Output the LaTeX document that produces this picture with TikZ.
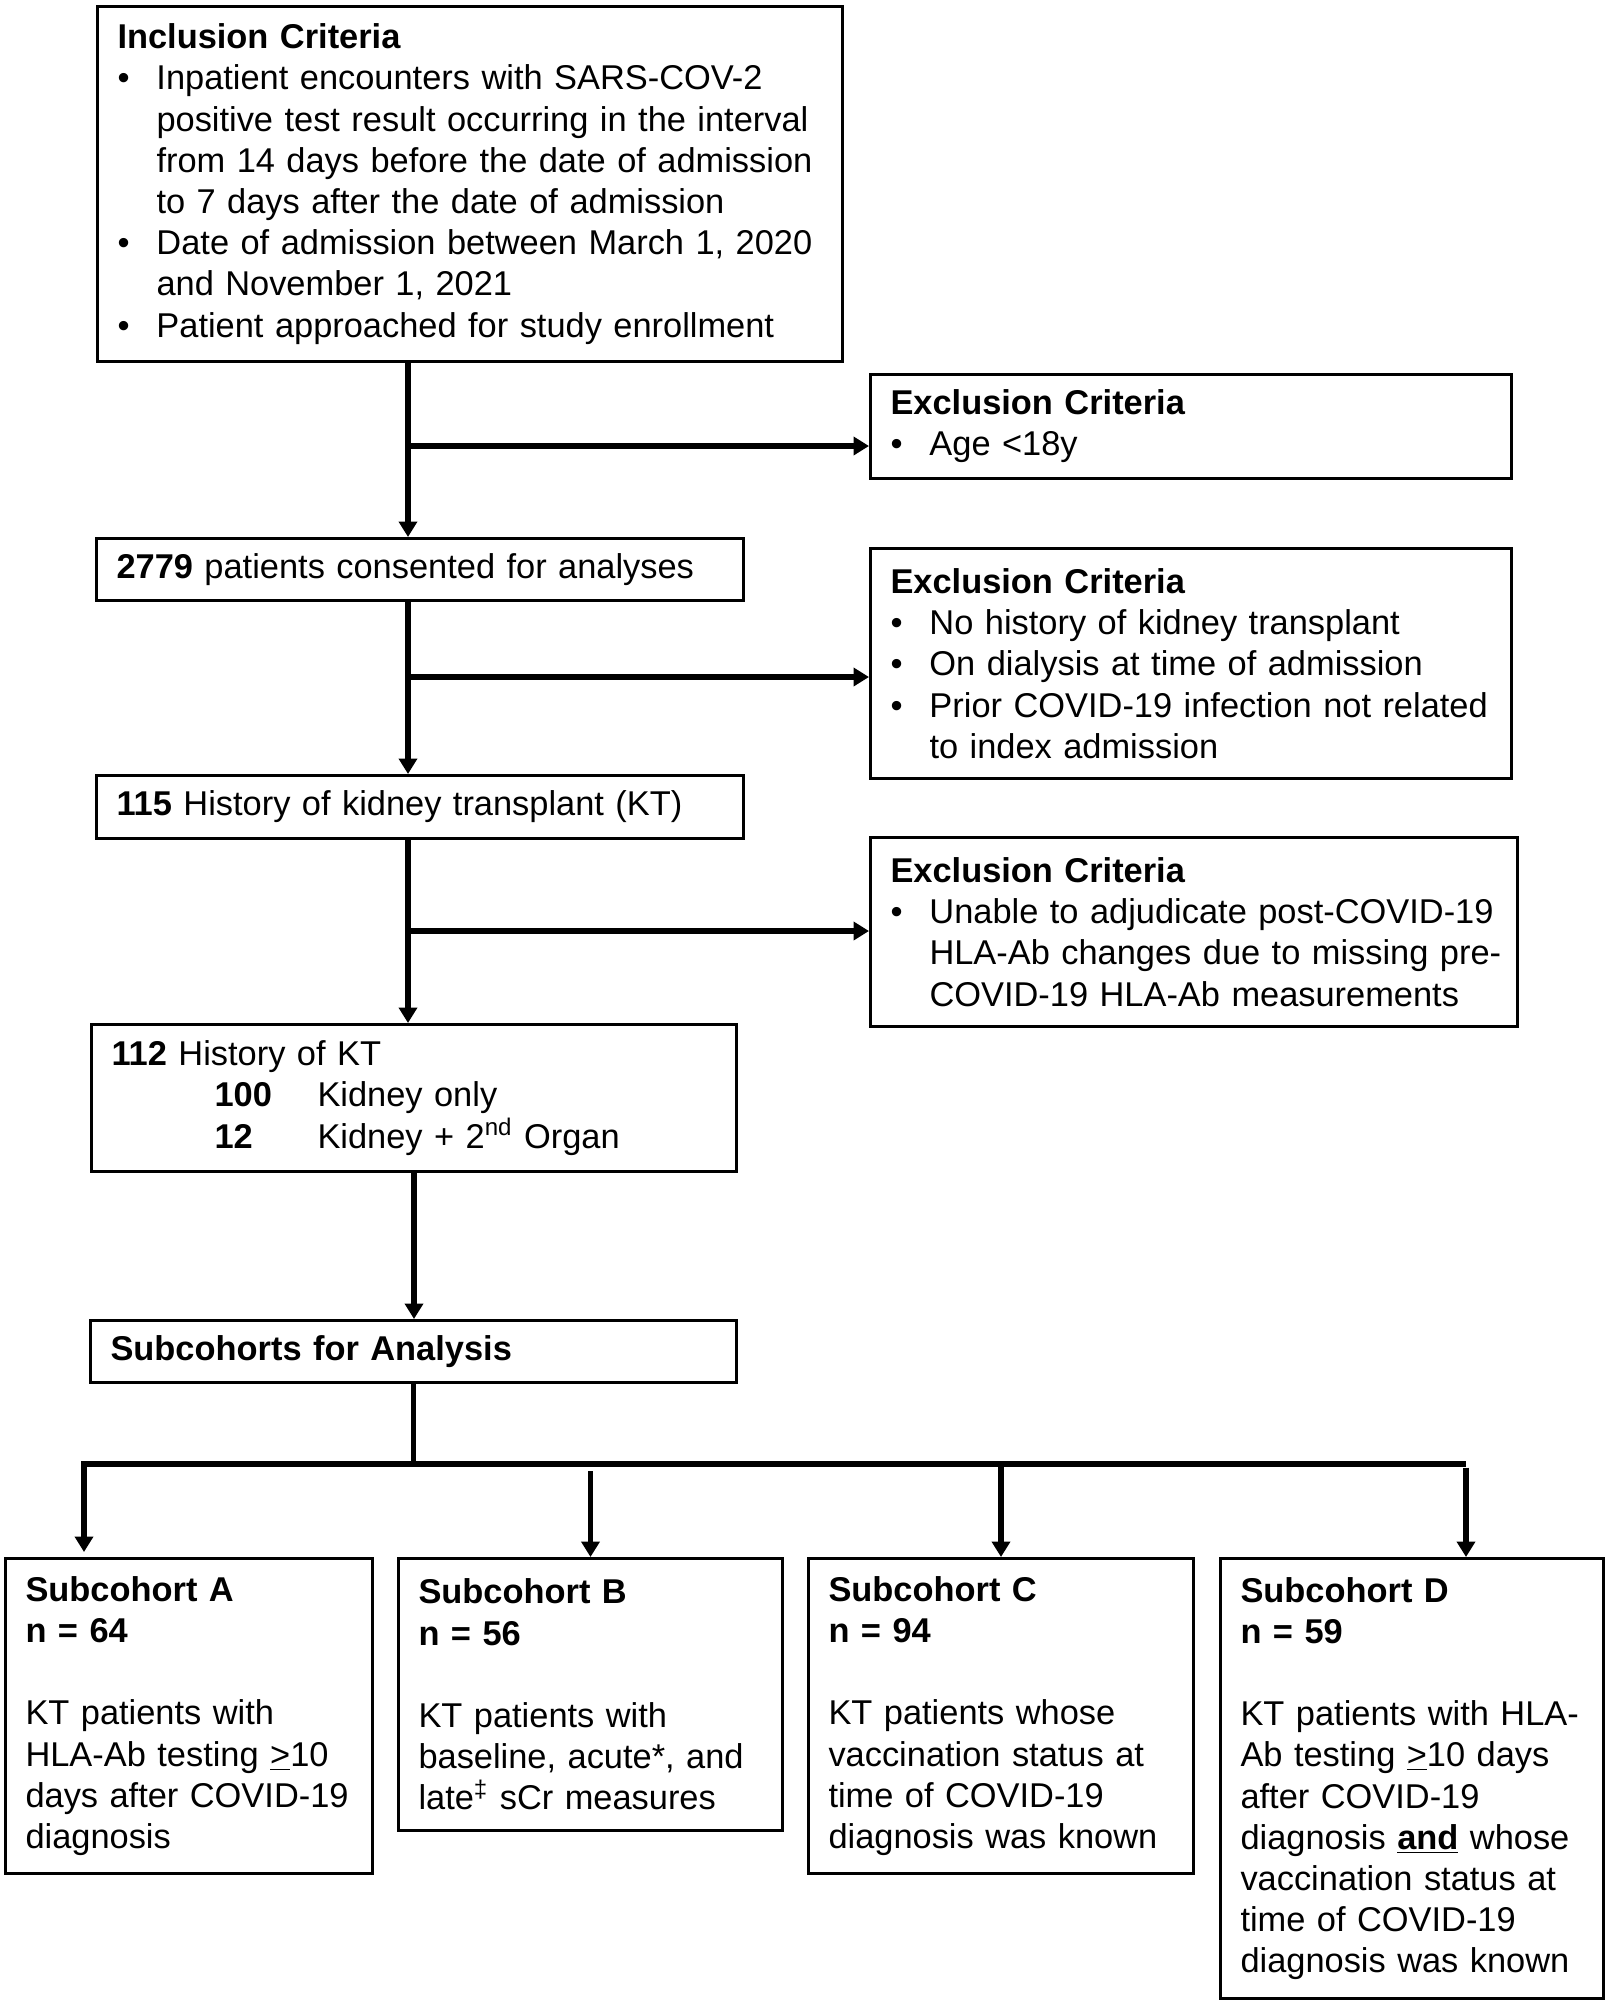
\documentclass[tikz,border=0pt]{standalone}
\usepackage{fontspec}
\setmainfont{Liberation Sans}
\usetikzlibrary{arrows.meta}
\newcommand{\bitem}[1]{\par\noindent\hangindent=19.5pt\hangafter=1\makebox[19.5pt][l]{\textbullet}#1\par}
\begin{document}
\begin{tikzpicture}[x=0.5pt, y=-0.5pt,
	box/.style = {rectangle, draw=black, line width=1.5pt, anchor=north west, inner xsep=10pt, inner ysep=0pt, align=left, font=\fontsize{17.2}{20.6}\selectfont},
	conn/.style = {line width=2.8pt},
	arr/.style = {conn, -{Triangle[length=7.75pt, width=9pt]}}]
	\useasboundingbox (0,0) rectangle (1606,2002);
	\node (incl) [box, minimum width=372.5pt, minimum height=177.5pt, text width=352.5pt] at (96,5) {\textbf{Inclusion Criteria}\bitem{Inpatient encounters with SARS-COV-2\newline positive test result occurring in the interval\newline from 14 days before the date of admission\newline to 7 days after the date of admission}\bitem{Date of admission between March 1, 2020\newline and November 1, 2021}\bitem{Patient approached for study enrollment}};
	\node (ex1) [box, minimum width=320.5pt, minimum height=52pt, text width=300.5pt] at (869,373) {\textbf{Exclusion Criteria}\bitem{Age <18y}};
	\node (n2779) [box, minimum width=323.5pt, minimum height=31pt, text width=303.5pt] at (95,537) {\textbf{2779} patients consented for analyses};
	\node (ex2) [box, minimum width=320.5pt, minimum height=115pt, text width=300.5pt] at (869,547) {\textbf{Exclusion Criteria}\bitem{No history of kidney transplant}\bitem{On dialysis at time of admission}\bitem{Prior COVID-19 infection not related\newline to index admission}};
	\node (n115) [box, minimum width=323.5pt, minimum height=31.5pt, text width=303.5pt] at (95,774) {\textbf{115} History of kidney transplant (KT)};
	\node (ex3) [box, minimum width=323.5pt, minimum height=94.5pt, text width=303.5pt] at (869,836) {\textbf{Exclusion Criteria}\bitem{\mbox{Unable to adjudicate post-COVID-19}\newline \mbox{HLA-Ab changes due to missing pre-}\newline \mbox{COVID-19 HLA-Ab measurements}}};
	\node (n112) [box, minimum width=322.5pt, minimum height=73.5pt, text width=302.5pt] at (90,1023) {\textbf{112} History of KT\\\hspace*{51.5pt}\makebox[51.5pt][l]{\textbf{100}}Kidney only\\\hspace*{51.5pt}\makebox[51.5pt][l]{\textbf{12}}Kidney + 2\textsuperscript{nd} Organ};
	\node (sub) [box, minimum width=323pt, minimum height=31pt, text width=303pt] at (89,1319) {\textbf{Subcohorts for Analysis}};
	\node (sA) [box, minimum width=183.5pt, minimum height=157.5pt, text width=163.5pt] at (4,1557) {\textbf{Subcohort A}\\\textbf{n = 64}\\[20.6pt]KT patients with\\HLA-Ab testing \underline{>}10\\days after COVID-19\\diagnosis};
	\node (sB) [box, minimum width=192pt, minimum height=136pt, text width=172pt] at (397,1557) {\textbf{Subcohort B}\\\textbf{n = 56}\\[20.6pt]KT patients with\\baseline, acute*, and\\late\textsuperscript{‡} sCr measures};
	\node (sC) [box, minimum width=192.5pt, minimum height=157.5pt, text width=172.5pt] at (807,1557) {\textbf{Subcohort C}\\\textbf{n = 94}\\[20.6pt]KT patients whose\\vaccination status at\\time of COVID-19\\diagnosis was known};
	\node (sD) [box, minimum width=191.5pt, minimum height=220pt, text width=171.5pt] at (1219,1557) {\textbf{Subcohort D}\\\textbf{n = 59}\\[20.6pt]KT patients with HLA-\\Ab testing \underline{>}10 days\\after COVID-19\\diagnosis \textbf{\underline{and}} whose\\vaccination status at\\time of COVID-19\\diagnosis was known};
	\coordinate (sp1) at (408,446);
	\coordinate (sp2) at (408,677);
	\coordinate (sp3) at (408,931);
	\coordinate (dA) at (84,1464);
	\coordinate (dD) at (1466,1464);
	\draw [arr] (incl.south -| sp1) -- (n2779.north -| sp1);
	\draw [arr] (sp1) -- (sp1 -| ex1.west);
	\draw [arr] (n2779.south -| sp2) -- (n115.north -| sp2);
	\draw [arr] (sp2) -- (sp2 -| ex2.west);
	\draw [arr] (n115.south -| sp3) -- (n112.north -| sp3);
	\draw [arr] (sp3) -- (sp3 -| ex3.west);
	\draw [arr] (n112.south) -- (n112.south |- sub.north);
	\draw [conn] (sub.south) -- (sub.south |- dA);
	\draw [arr, shorten >=2.5pt] (dD) -- (dA) -- (dA |- sA.north);
	\draw [arr] ([yshift=-3.5pt]dA -| sB.north) -- (sB.north);
	\draw [arr] (dA -| sC.north) -- (sC.north);
	\draw [arr] ([yshift=-1.75pt]dD) -- (dD |- sD.north);
\end{tikzpicture}
\end{document}
